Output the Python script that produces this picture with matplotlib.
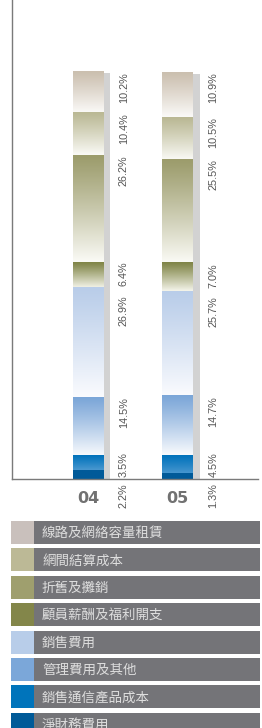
import numpy as np
import matplotlib
matplotlib.use("Agg")
import matplotlib.pyplot as plt
from matplotlib.colors import to_rgb
from matplotlib.patches import Rectangle

plt.rcParams["font.family"] = ["Noto Sans CJK TC", "DejaVu Sans"]

# 數據：按圖例順序（堆疊由上至下）
categories = ["線路及網絡容量租賃", "網間結算成本", "折舊及攤銷", "顧員薪酬及福利開支",
              "銷售費用", "管理費用及其他", "銷售通信產品成本", "淨財務費用"]
years = ["04", "05"]
share_04 = [10.2, 10.4, 26.2, 6.4, 26.9, 14.5, 3.5, 2.2]
share_05 = [10.9, 10.5, 25.5, 7.0, 25.7, 14.7, 4.5, 1.3]
labels_04 = ["10.2%", "10.4%", "26.2%", "6.4%", "26.9%", "14.5%", "3.5%", "2.2%"]
labels_05 = ["10.9%", "10.5%", "25.5%", "7.0%", "25.7%", "14.7%", "4.5%", "1.3%"]

top_colors = ["#cbbfaf", "#bab894", "#9c9c6c", "#7f8446",
              "#b9cde9", "#7ba6d8", "#0072bb", "#005a99"]
fade_colors = ["#fbfaf8", "#fafaf6", "#fafaf5", "#f4f4ea",
               "#fafbfe", "#f8fafd", "#4a98d0", "#005a99"]
swatch_colors = ["#c9c0bc", "#bcb996", "#9f9f6e", "#83864a",
                 "#b8cde9", "#7ba7d9", "#0074bb", "#005a98"]

W, H = 262, 728
fig = plt.figure(figsize=(W / 100, H / 100), dpi=100)

ax = fig.add_axes([11.5 / W, 249 / H, (258 - 11.5) / W, 479 / H])
bar_w = 0.34
shadow_w = 0.08
ax.set_xlim(-0.855, 1.90)
ax.set_ylim(0, 118)
renderer = fig.canvas.get_renderer()


def gradient(c_top, c_bot, n=64):
    a = np.array(to_rgb(c_top))
    b = np.array(to_rgb(c_bot))
    t = (np.linspace(0, 1, n) ** 1.1)[:, None]
    return (a * (1 - t) + b * t)[:, None, :]


pct_kw = dict(rotation=90, ha="center", fontsize=7.8, color="#555555",
              family="Liberation Sans")

for xi, (vals, labs) in enumerate([(share_04, labels_04), (share_05, labels_05)]):
    total = sum(vals)
    # 陰影
    ax.add_patch(Rectangle((xi + bar_w / 2, 0), shadow_w, total - 0.3,
                           color="#d2d2d2", lw=0, zorder=1))
    top = total
    n = len(vals)
    prev_bottom = None
    for k, v in enumerate(vals):
        bot = top - v
        ax.imshow(gradient(top_colors[k], fade_colors[k]), aspect="auto",
                  extent=[xi - bar_w / 2, xi + bar_w / 2, bot, top],
                  origin="upper", interpolation="bilinear", zorder=2)
        lx = xi + 0.40
        if k == n - 1:
            ax.text(lx, -1.0, labs[k], va="top", clip_on=False, **pct_kw)
        elif k == n - 2:
            ax.text(lx, 0.4, labs[k], va="bottom", **pct_kw)
        else:
            ly = top if prev_bottom is None else min(top, prev_bottom - 2.2)
            t = ax.text(lx, ly, labs[k], va="top", **pct_kw)
            bb = t.get_window_extent(renderer).transformed(ax.transData.inverted())
            prev_bottom = bb.y0
        top = bot
    ax.text(xi, -3.0, years[xi], ha="center", va="top", fontsize=11.5,
            fontweight="bold", color="#717171", family="DejaVu Sans",
            clip_on=False)

for side in ["top", "right"]:
    ax.spines[side].set_visible(False)
for side in ["left", "bottom"]:
    ax.spines[side].set_color("#7a7a7a")
    ax.spines[side].set_linewidth(1.0)
ax.set_xticks([])
ax.set_yticks([])
ax.patch.set_alpha(0)

# 圖例
lg = fig.add_axes([0, 0, 1, 1])
lg.set_xlim(0, W)
lg.set_ylim(H, 0)
lg.axis("off")
lg.patch.set_alpha(0)
row_h = 23
pitch = 27.4
for i, name in enumerate(categories):
    y0 = 521 + i * pitch
    lg.add_patch(Rectangle((11, y0), 23, row_h, color=swatch_colors[i], lw=0))
    lg.add_patch(Rectangle((34, y0), 226, row_h, color="#747478", lw=0))
    lg.text(42, y0 + row_h / 2 + 0.5, name, ha="left", va="center",
            fontsize=9.7, color="#dedede")

fig.savefig("out.png", dpi=100)
